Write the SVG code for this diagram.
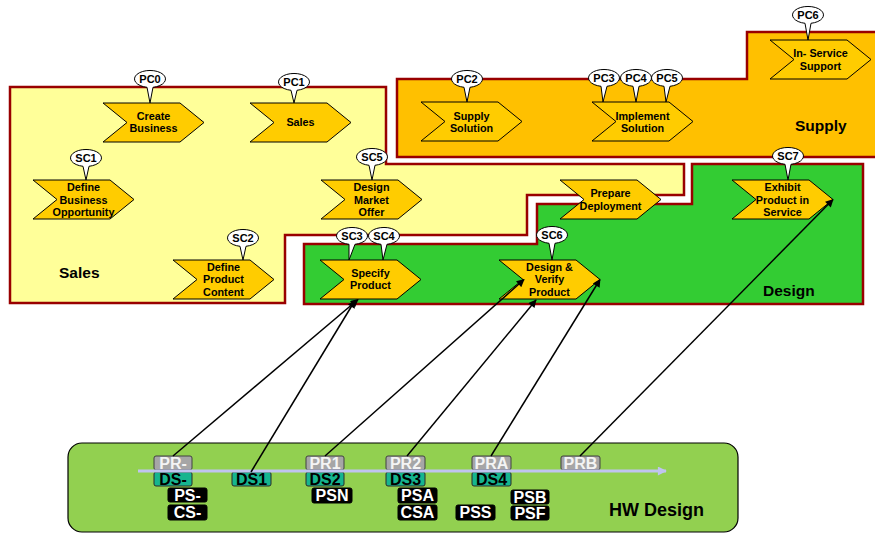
<svg xmlns="http://www.w3.org/2000/svg" width="875" height="533" viewBox="0 0 875 533">
<style>
.lane{stroke:#990000;stroke-width:2.5}
.chev{fill:#FFCC00;stroke:#000;stroke-width:1}
.lbl{font-family:"Liberation Sans",Arial,sans-serif;font-weight:bold;font-size:10.8px;text-anchor:middle;fill:#000}
.bub{fill:#fff;stroke:#000;stroke-width:1}
.btxt{font-family:"Liberation Sans",Arial,sans-serif;font-weight:bold;font-size:11px;text-anchor:middle;fill:#000}
.lane-lbl{font-family:"Liberation Sans",Arial,sans-serif;font-weight:bold;font-size:15.5px;fill:#000}
.tag text{font-family:"Liberation Sans",Arial,sans-serif;font-weight:bold;font-size:16px;text-anchor:middle}
.gray rect{fill:#A6A6A6;stroke:#404040;stroke-width:1}
.gray text{fill:#F4F4F4}
.teal rect{fill:#16B58F;stroke:#2A2A2A;stroke-width:1}
.teal text{fill:#000}
.blk rect{fill:#000;stroke:#000;stroke-width:1}
.blk text{fill:#fff}
.conn{stroke:#000;stroke-width:1.5;fill:none;marker-end:url(#arr)}
</style>
<defs>
<marker id="arr" viewBox="0 0 10 10" refX="9" refY="5" markerWidth="10" markerHeight="8" markerUnits="userSpaceOnUse" orient="auto">
<path d="M0,0 L10,5 L0,10 z" fill="#000"/>
</marker>
<marker id="tl" viewBox="0 0 10 10" refX="9" refY="5" markerWidth="11" markerHeight="9" markerUnits="userSpaceOnUse" orient="auto">
<path d="M0,0 L10,5 L0,10 z" fill="#C0C4F0"/>
</marker>
</defs>
<rect width="875" height="533" fill="#fff"/>

<!-- Lanes -->
<g id="lane-supply">
<path class="lane" fill="#FFC000" d="M397,79 L747,79 L747,32 L880,32 L880,157 L397,157 Z"/>
<text class="lane-lbl" x="795" y="131">Supply</text>
</g>
<g id="lane-sales">
<path class="lane" fill="#FFFF99" d="M10,87 L386,87 L386,164 L684,164 L684,195 L527,195 L527,235 L285,235 L285,303 L10,303 Z"/>
<text class="lane-lbl" x="59" y="278">Sales</text>
</g>
<g id="lane-design">
<path class="lane" fill="#33CC33" d="M304,244 L537,244 L537,204 L692,204 L692,164 L863,164 L863,304 L304,304 Z"/>
<text class="lane-lbl" x="763" y="296">Design</text>
</g>

<!-- Chevron nodes -->
<g id="create-business">
<polygon class="chev" points="103,103 180,103 204,122.5 180,142 103,142 127,122.5"/>
<text class="lbl" x="153.5" y="119.5">Create</text><text class="lbl" x="153.5" y="132">Business</text>
</g>
<g id="sales">
<polygon class="chev" points="250,103 327,103 351,122.5 327,142 250,142 274,122.5"/>
<text class="lbl" x="300.5" y="126">Sales</text>
</g>
<g id="define-business-opportunity">
<polygon class="chev" points="33,180 110,180 134,199.5 110,219 33,219 57,199.5"/>
<text class="lbl" x="83.5" y="191">Define</text><text class="lbl" x="83.5" y="203.5">Business</text><text class="lbl" x="83.5" y="216">Opportunity</text>
</g>
<g id="design-market-offer">
<polygon class="chev" points="321,180 398,180 422,199.5 398,219 321,219 345,199.5"/>
<text class="lbl" x="371.5" y="191">Design</text><text class="lbl" x="371.5" y="203.5">Market</text><text class="lbl" x="371.5" y="216">Offer</text>
</g>
<g id="define-product-content">
<polygon class="chev" points="173,260 250,260 274,279.5 250,299 173,299 197,279.5"/>
<text class="lbl" x="223.5" y="270.5">Define</text><text class="lbl" x="223.5" y="283">Product</text><text class="lbl" x="223.5" y="295.5">Content</text>
</g>
<g id="specify-product">
<polygon class="chev" points="320,260 397,260 421,279.5 397,299 320,299 344,279.5"/>
<text class="lbl" x="370.5" y="276.5">Specify</text><text class="lbl" x="370.5" y="289">Product</text>
</g>
<g id="supply-solution">
<polygon class="chev" points="421,102 498,102 522,121.5 498,141 421,141 445,121.5"/>
<text class="lbl" x="471.5" y="119.5">Supply</text><text class="lbl" x="471.5" y="132">Solution</text>
</g>
<g id="implement-solution">
<polygon class="chev" points="592,102 669,102 693,121.5 669,141 592,141 616,121.5"/>
<text class="lbl" x="642.5" y="119.5">Implement</text><text class="lbl" x="642.5" y="132">Solution</text>
</g>
<g id="in-service-support">
<polygon class="chev" points="770,40 847,40 871,59.5 847,79 770,79 794,59.5"/>
<text class="lbl" x="820.5" y="57">In- Service</text><text class="lbl" x="820.5" y="69.5">Support</text>
</g>
<g id="prepare-deployment">
<polygon class="chev" points="560,180 637,180 661,199.5 637,219 560,219 584,199.5"/>
<text class="lbl" x="610.5" y="197">Prepare</text><text class="lbl" x="610.5" y="209.5">Deployment</text>
</g>
<g id="exhibit-product-in-service">
<polygon class="chev" points="732,180 809,180 833,199.5 809,219 732,219 756,199.5"/>
<text class="lbl" x="782.5" y="191">Exhibit</text><text class="lbl" x="782.5" y="203.5">Product in</text><text class="lbl" x="782.5" y="216">Service</text>
</g>
<g id="design-verify-product">
<polygon class="chev" points="499,260 576,260 600,279.5 576,299 499,299 523,279.5"/>
<text class="lbl" x="549.5" y="270.5">Design &amp;</text><text class="lbl" x="549.5" y="283">Verify</text><text class="lbl" x="549.5" y="295.5">Product</text>
</g>

<!-- Callout bubbles -->
<g id="pc0"><path class="bub" d="M150,103 L147,87.3 A15.5 8.5 0 1 1 153,87.3 Z"/><text class="btxt" x="150" y="82.8">PC0</text></g>
<g id="pc1"><path class="bub" d="M294,103 L291,90.3 A15.5 8.5 0 1 1 297,90.3 Z"/><text class="btxt" x="294" y="85.8">PC1</text></g>
<g id="sc1"><path class="bub" d="M86,180 L83,166.3 A15.5 8.5 0 1 1 89,166.3 Z"/><text class="btxt" x="86" y="161.8">SC1</text></g>
<g id="sc5"><path class="bub" d="M372,180 L369,165.3 A15.5 8.5 0 1 1 375,165.3 Z"/><text class="btxt" x="372" y="160.8">SC5</text></g>
<g id="sc2"><path class="bub" d="M243,260 L240,246.3 A15.5 8.5 0 1 1 246,246.3 Z"/><text class="btxt" x="243" y="241.8">SC2</text></g>
<g id="sc3"><path class="bub" d="M349,260 L349,244.3 A15.5 8.5 0 1 1 355,244.3 Z"/><text class="btxt" x="352" y="239.8">SC3</text></g>
<g id="sc4"><path class="bub" d="M383,260 L381,244.3 A15.5 8.5 0 1 1 387,244.3 Z"/><text class="btxt" x="384" y="239.8">SC4</text></g>
<g id="sc6"><path class="bub" d="M552,260 L549,243.3 A15.5 8.5 0 1 1 555,243.3 Z"/><text class="btxt" x="552" y="238.8">SC6</text></g>
<g id="sc7"><path class="bub" d="M788,180 L785,164.3 A15.5 8.5 0 1 1 791,164.3 Z"/><text class="btxt" x="788" y="159.8">SC7</text></g>
<g id="pc2"><path class="bub" d="M467,102 L464,87.3 A15.5 8.5 0 1 1 470,87.3 Z"/><text class="btxt" x="467" y="82.8">PC2</text></g>
<g id="pc3"><path class="bub" d="M603,102 L601,86.3 A15.5 8.5 0 1 1 607,86.3 Z"/><text class="btxt" x="604" y="81.8">PC3</text></g>
<g id="pc4"><path class="bub" d="M636,102 L633,86.3 A15.5 8.5 0 1 1 639,86.3 Z"/><text class="btxt" x="636" y="81.8">PC4</text></g>
<g id="pc5"><path class="bub" d="M666,102 L664,86.3 A15.5 8.5 0 1 1 670,86.3 Z"/><text class="btxt" x="667" y="81.8">PC5</text></g>
<g id="pc6"><path class="bub" d="M808,40 L805,23.3 A15.5 8.5 0 1 1 811,23.3 Z"/><text class="btxt" x="808" y="18.8">PC6</text></g>

<!-- HW Design panel -->
<g id="hw-design">
<rect x="68" y="443" width="670" height="89" rx="14" fill="#92D050" stroke="#000" stroke-width="1.2"/>
<text x="609" y="516" style="font-family:'Liberation Sans',Arial,sans-serif;font-weight:bold;font-size:18px" fill="#000">HW Design</text>
</g>

<g id="tags">
<g id="tag-pr-" class="tag gray"><rect x="154" y="456" width="38" height="14" rx="2"/><text x="173" y="468.8">PR-</text></g>
<g id="tag-pr1" class="tag gray"><rect x="306" y="456" width="38" height="14" rx="2"/><text x="325" y="468.8">PR1</text></g>
<g id="tag-pr2" class="tag gray"><rect x="386" y="456" width="39" height="14" rx="2"/><text x="405.5" y="468.8">PR2</text></g>
<g id="tag-pra" class="tag gray"><rect x="472" y="456" width="39" height="14" rx="2"/><text x="491.5" y="468.8">PRA</text></g>
<g id="tag-prb" class="tag gray"><rect x="561" y="456" width="39" height="14" rx="2"/><text x="580.5" y="468.8">PRB</text></g>
<g id="tag-ds-" class="tag teal"><rect x="154" y="472" width="38" height="14" rx="2"/><text x="173" y="484.8">DS-</text></g>
<g id="tag-ds1" class="tag teal"><rect x="232" y="472" width="39" height="14" rx="2"/><text x="251.5" y="484.8">DS1</text></g>
<g id="tag-ds2" class="tag teal"><rect x="306" y="472" width="38" height="14" rx="2"/><text x="325" y="484.8">DS2</text></g>
<g id="tag-ds3" class="tag teal"><rect x="386" y="472" width="39" height="14" rx="2"/><text x="405.5" y="484.8">DS3</text></g>
<g id="tag-ds4" class="tag teal"><rect x="472" y="472" width="39" height="14" rx="2"/><text x="491.5" y="484.8">DS4</text></g>
<g id="tag-ps-" class="tag blk"><rect x="168" y="488" width="39" height="14" rx="2"/><text x="187.5" y="500.8">PS-</text></g>
<g id="tag-cs-" class="tag blk"><rect x="168" y="505" width="39" height="15" rx="2"/><text x="187.5" y="518.3">CS-</text></g>
<g id="tag-psn" class="tag blk"><rect x="312" y="488" width="40" height="15" rx="2"/><text x="332" y="501.3">PSN</text></g>
<g id="tag-psa" class="tag blk"><rect x="398" y="488" width="39" height="15" rx="2"/><text x="417.5" y="501.3">PSA</text></g>
<g id="tag-csa" class="tag blk"><rect x="398" y="505" width="39" height="15" rx="2"/><text x="417.5" y="518.3">CSA</text></g>
<g id="tag-pss" class="tag blk"><rect x="456" y="505" width="39" height="15" rx="2"/><text x="475.5" y="518.3">PSS</text></g>
<g id="tag-psb" class="tag blk"><rect x="511" y="490" width="38" height="14" rx="2"/><text x="530" y="502.8">PSB</text></g>
<g id="tag-psf" class="tag blk"><rect x="511" y="506" width="38" height="14" rx="2"/><text x="530" y="518.8">PSF</text></g>
</g>

<g id="timeline">
<line x1="138" y1="471" x2="666" y2="471" stroke="#C0C4F0" stroke-width="3" marker-end="url(#tl)"/>
</g>

<!-- Connectors -->
<g id="connectors">
<line class="conn" x1="173" y1="456" x2="358" y2="299.5"/>
<line class="conn" x1="251" y1="472" x2="355" y2="300.5"/>
<line class="conn" x1="325" y1="456" x2="524" y2="279.5"/>
<line class="conn" x1="407" y1="456" x2="536" y2="300"/>
<line class="conn" x1="491" y1="456" x2="600" y2="279.5"/>
<line class="conn" x1="580" y1="456" x2="833" y2="199.5"/>
</g>
</svg>
